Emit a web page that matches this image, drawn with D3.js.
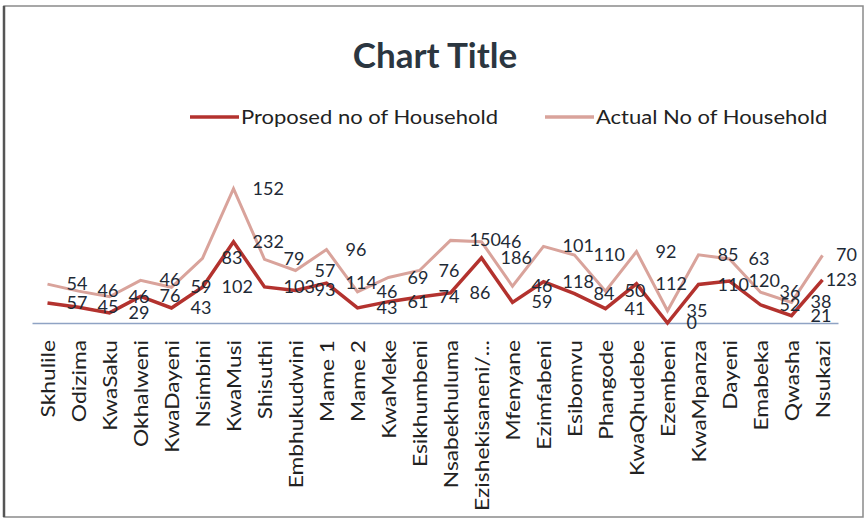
<!DOCTYPE html>
<html>

<head>
  <title>Chart Title</title>
  <script src="https://unpkg.com/d3@7.8.2/dist/d3.min.js"></script>
  <style>
    body { margin: 0; background: #fff; }
    text { font-family: Lato, "Open Sans", sans-serif; }
  </style>
</head>

<body>
  <script>

    // data (stacked line chart)
    const categories = ["Skhulile", "Odizima", "KwaSaku", "Okhalweni", "KwaDayeni", "Nsimbini",
      "KwaMusi", "Shisuthi", "Embhukudwini", "Mame 1", "Mame 2", "KwaMeke", "Esikhumbeni",
      "Nsabekhuluma", "Ezishekisaneni/...", "Mfenyane", "Ezimfabeni", "Esibomvu", "Phangode",
      "KwaQhudebe", "Ezembeni", "KwaMpanza", "Dayeni", "Emabeka", "Qwasha", "Nsukazi"];

    const proposed = [57, 45, 29, 76, 43, 102, 232, 103, 93, 114, 43, 61, 74,
      86, 186, 59, 118, 84, 41, 112, 0, 110, 120, 52, 21, 123];

    const actual = [54, 46, 46, 46, 59, 83, 152, 79, 57, 96, 46, 69, 76,
      150, 46, 46, 101, 110, 50, 92, 35, 85, 63, 36, 38, 70];

    const seriesNames = ["Proposed no of Household", "Actual No of Household"];
    const seriesColors = ["#b3322e", "#d9a39b"];

    const width = 868;
    const height = 519;

    const svg = d3.select("body").append("svg")
      .attr("width", width)
      .attr("height", height);

    // chart border
    svg.append("rect")
      .attr("x", 4).attr("y", 6)
      .attr("width", 859).attr("height", 511)
      .attr("fill", "none")
      .attr("stroke", "#8a8a8a")
      .attr("stroke-width", 1.5);
    svg.append("line")
      .attr("x1", 4).attr("x2", 4)
      .attr("y1", 6).attr("y2", 517)
      .attr("stroke", "#555")
      .attr("stroke-width", 2.5);

    // scales
    const x = d3.scalePoint()
      .domain(categories)
      .range([32, 838])
      .padding(0.5);

    const y = d3.scaleLinear()
      .domain([0, 400])
      .range([323, 183]);

    // stack the two series
    const rows = categories.map((c, i) => ({ cat: c, p: proposed[i], a: actual[i] }));
    const stacked = d3.stack().keys(["p", "a"])(rows);

    // title
    svg.append("text")
      .attr("x", 435).attr("y", 68)
      .attr("text-anchor", "middle")
      .style("font-size", "35px")
      .style("font-weight", "bold")
      .style("fill", "#2b3640")
      .text("Chart Title");

    // legend
    const legendX = [190, 545];
    seriesNames.forEach((name, i) => {
      const g = svg.append("g").attr("transform", `translate(${legendX[i]},117)`);
      g.append("line")
        .attr("x1", 0).attr("x2", 49)
        .attr("stroke", seriesColors[i])
        .attr("stroke-width", 3.5);
      g.append("text")
        .attr("x", 51).attr("y", 7)
        .attr("transform", "translate(51,0) scale(1.1,1) translate(-51,0)")
        .style("font-size", "20px")
        .style("fill", "#222")
        .text(name);
    });

    // category axis
    const xAxis = svg.append("g")
      .attr("transform", "translate(0,323)")
      .call(d3.axisBottom(x).tickSize(0).tickFormat(""));
    xAxis.select(".domain")
      .attr("stroke", "#8fa3c4")
      .attr("stroke-width", 1.5);

    svg.append("g").selectAll("text")
      .data(categories)
      .enter()
      .append("text")
      .attr("transform", d => `translate(${x(d) + 7},340) rotate(-90) scale(1.2,1)`)
      .attr("text-anchor", "end")
      .style("font-size", "19px")
      .style("fill", "#222")
      .text(d => d);

    // lines
    const line = d3.line()
      .x(d => x(d.data.cat))
      .y(d => y(d[1]));

    svg.selectAll(".series")
      .data(stacked.slice().reverse())
      .enter()
      .append("path")
      .attr("fill", "none")
      .attr("stroke", d => seriesColors[d.index])
      .attr("stroke-width", d => d.index === 0 ? 3.5 : 3)
      .attr("stroke-linejoin", "miter")
      .attr("d", line);

    // data labels, right of each point (last one pulled inside the chart)
    const last = categories[categories.length - 1];
    stacked.forEach(s => {
      svg.append("g").selectAll("text")
        .data(s)
        .enter()
        .append("text")
        .attr("x", d => d.data.cat === last ? 857 : x(d.data.cat) + 19)
        .attr("y", d => y(d[1]) + 6)
        .attr("text-anchor", d => d.data.cat === last ? "end" : "start")
        .style("font-size", "18px")
        .style("fill", "#1e2a36")
        .text(d => d[1] - d[0]);
    });

  </script>
</body>

</html>
